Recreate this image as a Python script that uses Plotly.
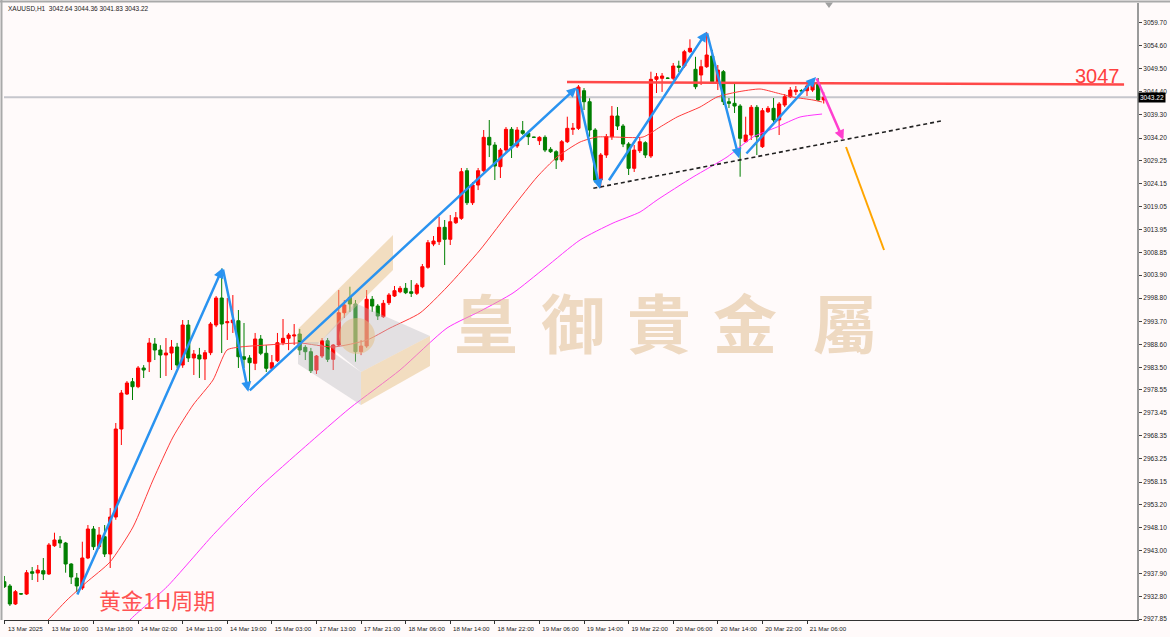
import plotly.graph_objects as go

# ---------------- data ----------------
bar_index = list(range(148))
opens = [2936.11, 2935.16, 2931.18, 2933.45, 2933.39, 2938.32, 2938.03, 2938.54, 2937.81, 2944.07,
         2945.33, 2944.66, 2940.02, 2936.92, 2934.72, 2941.35, 2947.76, 2943.85, 2946.06, 2942.23,
         2950.41, 2969.87, 2977.61, 2980.33, 2979.22, 2983.36, 2984.75, 2988.66, 2987.33, 2986.23,
         2986.67, 2988.00, 2984.02, 2992.86, 2985.57, 2986.23, 2985.35, 2986.74, 2992.86, 2998.83,
         2993.37, 2993.37, 2993.81, 2985.85, 2985.57, 2984.40, 2989.77, 2986.61, 2983.29, 2984.97,
         2988.95, 2989.92, 2990.43, 2990.87, 2987.93, 2986.96, 2982.91, 2986.01, 2989.39, 2985.28,
         2988.44, 2995.58, 2999.00, 2997.51, 2986.96, 2988.22, 2998.55, 2997.06, 2994.70, 2997.79,
         2999.27, 3000.22, 3000.98, 3000.22, 2999.87, 3001.33, 3005.62, 3010.77, 3011.28, 3014.46,
         3011.81, 3015.48, 3016.45, 3026.98, 3019.90, 3023.82, 3026.98, 3034.36, 3032.66, 3027.87,
         3031.55, 3036.13, 3032.44, 3035.82, 3035.25, 3034.40, 3033.61, 3034.36, 3031.71, 3031.18,
         3029.36, 3033.39, 3036.13, 3036.35, 3044.67, 3042.23, 3035.98, 3024.92, 3030.45, 3034.50,
         3039.07, 3036.86, 3032.88, 3027.51, 3031.40, 3033.17, 3030.23, 3047.19, 3047.41, 3047.45,
         3047.41, 3050.13, 3050.13, 3053.29, 3049.40, 3048.14, 3049.97, 3052.34, 3046.30, 3048.87,
         3042.23, 3041.88, 3041.28, 3033.39, 3034.87, 3041.00, 3032.29, 3040.02, 3040.77, 3038.19,
         3041.50, 3043.34, 3044.45, 3044.67, 3044.67, 3044.82, 3046.30, 3042.64]
highs = [2937.37, 2935.60, 2934.27, 2933.60, 2938.69, 2939.36, 2939.80, 2941.35, 2944.66, 2946.94,
         2946.21, 2944.90, 2940.20, 2938.03, 2944.95, 2948.64, 2948.42, 2948.20, 2948.64, 2952.40,
         2971.20, 2978.49, 2980.48, 2981.15, 2983.80, 2984.00, 2989.99, 2989.99, 2988.40, 2989.99,
         2989.55, 2988.90, 2993.97, 2993.97, 2987.33, 2987.80, 2987.33, 2993.53, 2999.27, 3005.36,
         2998.83, 2999.49, 2996.18, 2993.31, 2986.20, 2991.10, 2990.65, 2988.40, 2986.23, 2991.10,
         2994.19, 2991.10, 2993.08, 2991.98, 2988.40, 2987.80, 2986.23, 2989.99, 2989.99, 2988.66,
         3000.60, 2998.39, 3001.33, 2998.39, 2989.55, 3000.60, 2999.27, 2997.50, 2998.39, 2999.93,
         3001.49, 3001.49, 3002.15, 3002.81, 3002.15, 3006.35, 3011.66, 3012.54, 3016.81, 3016.08,
         3017.18, 3017.85, 3027.58, 3027.58, 3024.48, 3027.58, 3035.98, 3038.19, 3033.30, 3032.00,
         3036.64, 3036.64, 3036.64, 3037.97, 3035.80, 3034.50, 3034.60, 3034.80, 3032.20, 3031.50,
         3033.77, 3038.92, 3037.53, 3045.93, 3045.26, 3043.00, 3036.40, 3030.90, 3035.10, 3041.28,
         3041.06, 3037.30, 3033.30, 3032.66, 3034.20, 3033.50, 3048.87, 3048.58, 3048.58, 3047.60,
         3050.80, 3051.30, 3053.70, 3056.03, 3052.16, 3051.50, 3057.65, 3053.70, 3050.35, 3049.24,
         3043.05, 3046.30, 3041.70, 3038.92, 3041.50, 3041.50, 3040.84, 3041.28, 3043.05, 3042.17,
         3043.93, 3045.48, 3045.70, 3045.00, 3046.15, 3047.03, 3047.47, 3044.36]
lows = [2934.72, 2930.74, 2930.96, 2933.20, 2933.17, 2936.48, 2936.04, 2936.48, 2937.59, 2943.80,
        2943.56, 2938.10, 2935.60, 2933.80, 2934.27, 2941.10, 2943.12, 2943.34, 2941.57, 2939.14,
        2949.80, 2966.33, 2977.40, 2976.28, 2978.90, 2981.15, 2982.47, 2985.12, 2981.15, 2981.59,
        2982.91, 2983.40, 2983.40, 2984.68, 2981.81, 2981.15, 2980.70, 2986.20, 2992.40, 2986.67,
        2989.55, 2991.10, 2983.36, 2983.36, 2980.26, 2982.90, 2986.20, 2982.47, 2982.90, 2984.68,
        2988.40, 2987.30, 2988.45, 2986.23, 2985.12, 2982.25, 2982.03, 2985.57, 2984.68, 2982.91,
        2988.20, 2994.41, 2995.74, 2984.75, 2986.20, 2987.80, 2995.74, 2993.97, 2994.41, 2997.29,
        2999.05, 2999.90, 2999.70, 2999.05, 2999.50, 3001.00, 3005.30, 3010.30, 3010.55, 3006.13,
        3010.55, 3015.20, 3016.10, 3019.40, 3019.40, 3022.70, 3026.70, 3030.00, 3024.92, 3025.36,
        3031.10, 3029.79, 3032.00, 3034.90, 3032.66, 3034.20, 3032.66, 3031.10, 3030.90, 3027.35,
        3028.90, 3033.10, 3034.90, 3035.98, 3040.40, 3034.50, 3024.26, 3023.16, 3029.80, 3033.80,
        3035.98, 3032.20, 3026.03, 3026.70, 3030.90, 3029.80, 3029.79, 3044.16, 3044.40, 3047.30,
        3047.00, 3048.80, 3049.70, 3053.00, 3045.00, 3045.93, 3049.70, 3046.40, 3044.82, 3041.50,
        3040.84, 3039.74, 3025.65, 3033.10, 3033.77, 3030.45, 3032.00, 3039.74, 3037.75, 3034.87,
        3041.06, 3043.05, 3043.70, 3044.30, 3043.50, 3044.40, 3042.40, 3041.83]
closes = [2935.00, 2931.18, 2933.90, 2933.39, 2938.10, 2937.96, 2938.69, 2937.81, 2944.22, 2945.33,
          2944.66, 2940.02, 2937.15, 2935.16, 2941.35, 2947.76, 2943.85, 2946.43, 2942.23, 2950.41,
          2969.87, 2977.83, 2980.04, 2979.22, 2983.36, 2982.91, 2988.88, 2987.33, 2986.23, 2986.67,
          2988.00, 2984.02, 2992.86, 2985.57, 2986.45, 2985.35, 2986.74, 2993.08, 2998.83, 2993.08,
          2993.59, 2993.97, 2985.85, 2985.28, 2984.53, 2989.77, 2986.61, 2983.29, 2984.53, 2988.95,
          2989.92, 2990.65, 2990.65, 2987.33, 2986.96, 2982.76, 2986.01, 2989.39, 2985.28, 2988.44,
          2995.58, 2997.29, 2997.51, 2986.96, 2988.22, 2998.55, 2997.06, 2994.85, 2997.66, 2999.49,
          3000.45, 3000.98, 3000.00, 2999.87, 3001.71, 3005.75, 3011.06, 3011.43, 3014.46, 3011.81,
          3015.70, 3016.59, 3026.76, 3019.90, 3023.82, 3026.98, 3034.36, 3032.66, 3028.02, 3031.55,
          3036.13, 3032.44, 3035.98, 3035.25, 3034.50, 3034.36, 3034.36, 3031.55, 3031.18, 3029.36,
          3033.39, 3036.35, 3036.35, 3045.48, 3042.23, 3035.98, 3024.92, 3030.45, 3034.50, 3039.07,
          3036.86, 3032.88, 3027.51, 3031.55, 3033.39, 3030.45, 3047.19, 3047.76, 3047.92, 3047.41,
          3050.13, 3049.84, 3053.29, 3054.04, 3045.55, 3049.97, 3052.56, 3046.66, 3049.24, 3042.23,
          3041.88, 3041.28, 3034.14, 3034.87, 3041.00, 3034.50, 3040.25, 3040.77, 3038.19, 3041.73,
          3043.34, 3044.82, 3044.82, 3044.64, 3045.71, 3046.43, 3042.61, 3043.22]

x_tick_index = list(range(0, 145, 8))
x_tick_text = ["13 Mar 2025", "13 Mar 10:00", "13 Mar 18:00", "14 Mar 02:00", "14 Mar 11:00",
               "14 Mar 19:00", "15 Mar 03:00", "17 Mar 13:00", "17 Mar 21:00", "18 Mar 06:00",
               "18 Mar 14:00", "18 Mar 22:00", "19 Mar 06:00", "19 Mar 14:00", "19 Mar 22:00",
               "20 Mar 06:00", "20 Mar 14:00", "20 Mar 22:00", "21 Mar 06:00"]
y_tick_values = [3059.70, 3054.60, 3049.50, 3044.40, 3039.30, 3034.20, 3029.25, 3024.15, 3019.05,
                 3013.95, 3008.85, 3003.90, 2998.80, 2993.70, 2988.60, 2983.50, 2978.55, 2973.45,
                 2968.35, 2963.25, 2958.15, 2953.20, 2948.10, 2943.00, 2937.90, 2932.80, 2927.85]

# moving averages
ma_fast_x = [6.6, 7.84, 11.25, 14.8, 18.96, 23.09, 26.68, 30.27, 33.86, 37.44, 39.95, 42.29, 47.13,
             53.05, 58.97, 65.07, 69.2, 74.58, 79.42, 85.34, 91.26, 95.57, 99.16, 103.29, 106.34,
             109.21, 114.59, 117.64, 120.69, 124.81, 127.86, 131.45, 135.58, 138.63, 141.5, 145.08, 146.7]
ma_fast_y = [2926.0, 2927.63, 2932.06, 2936.04, 2940.46, 2948.20, 2958.59, 2968.10, 2975.18, 2980.70,
             2987.33, 2988.00, 2988.44, 2988.88, 2988.00, 2989.55, 2992.20, 2995.52, 3001.26, 3009.45,
             3018.95, 3025.59, 3030.01, 3033.32, 3034.43, 3034.43, 3034.43, 3036.64, 3038.85, 3041.06,
             3043.27, 3044.38, 3045.04, 3044.16, 3043.27, 3042.61, 3042.17]
ma_slow_x = [21.5, 22.55, 29.2, 37.5, 45.87, 54.0, 62.02, 70.99, 79.42, 85.5, 91.26, 97.0, 103.29,
             109.21, 114.05, 117.1, 123.56, 129.66, 134.32, 138.63, 142.75, 146.7]
ma_slow_y = [2925.3, 2927.63, 2935.0, 2946.5, 2957.05, 2966.0, 2974.51, 2982.91, 2992.20, 2996.0,
             2999.94, 3005.5, 3011.66, 3015.41, 3017.85, 3020.50, 3025.59, 3030.01, 3034.43, 3036.64,
             3038.85, 3039.51]

# hand-drawn analysis lines: (x0, y0, x1, y1) in bar index / price
blue_wave = [(12.99, 2932.94, 39.18, 3005.47), (39.18, 3005.47, 43.77, 2978.12),
             (43.77, 2978.12, 102.69, 3045.42), (102.69, 3045.42, 106.87, 3022.93),
             (108.30, 3024.55, 126.01, 3057.71), (126.01, 3057.71, 131.81, 3029.72),
             (132.89, 3030.45, 145.62, 3047.70)]
pink_move = (145.62, 3047.70, 150.52, 3033.77)
orange_move = (151.0, 3032.22, 157.82, 3009.45)
support_dash = (105.67, 3023.09, 168.23, 3038.01)
resistance = (100.95, 3046.59, 200.88, 3046.04)
resistance_label = "3047"
last_price = 3043.22
header = "XAUUSD,H1  3042.64 3044.36 3041.83 3043.22"
period_label = "黄金1H周期"
watermark_chars = ["皇", "御", "貴", "金", "屬"]

# ---------------- figure ----------------
L, R, T, B = 4, 1137, 3, 620          # plot area in page pixels
W, H = 1170, 637


def px(x):
    return (x - L) / (R - L)


def py(y):
    return (B - y) / (B - T)


def path(points):
    return "M " + " L ".join(f"{px(a):.5f} {py(b):.5f}" for a, b in points) + " Z"


fig = go.Figure()
fig.add_trace(go.Candlestick(
    x=bar_index, open=opens, high=highs, low=lows, close=closes,
    increasing=dict(line=dict(color="#ff0000", width=1), fillcolor="#ff0000"),
    decreasing=dict(line=dict(color="#007f00", width=1), fillcolor="#007f00"),
    whiskerwidth=0, hoverinfo="skip"))
fig.add_trace(go.Scatter(x=ma_fast_x, y=ma_fast_y, mode="lines",
                         line=dict(color="#ff3b3b", width=1, shape="spline", smoothing=0.6),
                         hoverinfo="skip"))
fig.add_trace(go.Scatter(x=ma_slow_x, y=ma_slow_y, mode="lines",
                         line=dict(color="#ff33ff", width=1, shape="spline", smoothing=0.6),
                         hoverinfo="skip"))

shapes = []
# current price line
shapes.append(dict(type="line", xref="paper", x0=0, x1=1, yref="y", y0=last_price, y1=last_price,
                   line=dict(color="#c6c6cc", width=2), layer="below"))
# resistance
shapes.append(dict(type="line", xref="x", yref="y", x0=resistance[0], y0=resistance[1],
                   x1=resistance[2], y1=resistance[3], line=dict(color="#ff4848", width=2.5),
                   layer="above"))
# support dashed
shapes.append(dict(type="line", xref="x", yref="y", x0=support_dash[0], y0=support_dash[1],
                   x1=support_dash[2], y1=support_dash[3],
                   line=dict(color="#222222", width=1.6, dash="4px,3px"), layer="above"))
# orange projection
shapes.append(dict(type="line", xref="x", yref="y", x0=orange_move[0], y0=orange_move[1],
                   x1=orange_move[2], y1=orange_move[3], line=dict(color="#ffa500", width=2),
                   layer="above"))
# logo watermark
tan = "rgba(228,190,130,0.48)"
gray = "rgba(185,185,190,0.40)"
shapes.append(dict(type="path", xref="paper", yref="paper", layer="above", line=dict(width=0),
                   fillcolor=tan, path=path([(298, 329), (393, 235), (393, 270), (316, 346), (298, 340)])))
shapes.append(dict(type="path", xref="paper", yref="paper", layer="above", line=dict(width=0),
                   fillcolor=gray, path=path([(298, 342), (318, 342), (361, 372), (361, 405), (298, 364)])))
shapes.append(dict(type="path", xref="paper", yref="paper", layer="above", line=dict(width=0),
                   fillcolor=gray, path=path([(355, 303), (430, 336), (361, 372), (322, 340)])))
shapes.append(dict(type="path", xref="paper", yref="paper", layer="above", line=dict(width=0),
                   fillcolor=tan, path=path([(361, 372), (430, 336), (430, 366), (361, 405)])))
shapes.append(dict(type="circle", xref="paper", yref="paper", layer="above", line=dict(width=0),
                   fillcolor="rgba(228,190,130,0.5)", x0=px(339), x1=px(375), y0=py(354), y1=py(318)))
# frame
shapes.append(dict(type="line", xref="paper", yref="paper", x0=px(0), x1=px(W), y0=py(1.5), y1=py(1.5),
                   line=dict(color="#a9a9a9", width=2)))
shapes.append(dict(type="line", xref="paper", yref="paper", x0=px(1.5), x1=px(1.5), y0=py(0), y1=py(B),
                   line=dict(color="#a9a9a9", width=2)))
shapes.append(dict(type="path", xref="paper", yref="paper", line=dict(width=0), fillcolor="#a0a0a0",
                   path=path([(825, 2.5), (833, 2.5), (829, 8)])))

annotations = []
for (x0, y0, x1, y1) in blue_wave:
    annotations.append(dict(x=x1, y=y1, ax=x0, ay=y0, xref="x", yref="y", axref="x", ayref="y",
                            text="", showarrow=True, arrowhead=2, arrowsize=0.8, arrowwidth=2.5,
                            arrowcolor="#2a93f0", standoff=0))
annotations.append(dict(x=pink_move[2], y=pink_move[3], ax=pink_move[0], ay=pink_move[1],
                        xref="x", yref="y", axref="x", ayref="y", text="", showarrow=True,
                        arrowhead=2, arrowsize=0.8, arrowwidth=2.5, arrowcolor="#ff3fcf", standoff=0))
annotations.append(dict(x=px(1122), y=py(75.5), xref="paper", yref="paper", xanchor="right",
                        yanchor="middle", text=resistance_label, showarrow=False,
                        font=dict(family="Liberation Sans", size=20, color="#ff4040")))
annotations.append(dict(x=1, xshift=1, y=last_price, xref="paper", yref="y", xanchor="left",
                        yanchor="middle", text=f"{last_price:.2f}", showarrow=False, bgcolor="#000000",
                        borderpad=1, font=dict(family="Liberation Sans", size=6.5, color="#ffffff")))
annotations.append(dict(x=px(6), y=py(8.5), xref="paper", yref="paper", xanchor="left",
                        yanchor="middle", text=header, showarrow=False,
                        font=dict(family="Liberation Sans", size=6.5, color="#222222")))
annotations.append(dict(x=px(156.5), y=py(598.5), xref="paper", yref="paper", xanchor="center",
                        yanchor="middle", text=period_label, showarrow=False,
                        font=dict(family="Noto Sans CJK SC", size=22, color="#ff5252")))
for ch, cx in zip(watermark_chars, [486, 573, 659, 745, 845]):
    annotations.append(dict(x=px(cx), y=py(320), xref="paper", yref="paper", xanchor="center",
                            yanchor="middle", text=ch, showarrow=False,
                            font=dict(family="Noto Sans CJK TC", size=64, weight="bold",
                                      color="rgba(222,184,135,0.5)")))

fig.update_layout(
    template="none", width=W, height=H,
    margin=dict(l=L, r=W - R, t=T, b=H - B, pad=0),
    paper_bgcolor="#fffafa", plot_bgcolor="#fffafa",
    showlegend=False, hovermode=False, boxgap=0.2, boxgroupgap=0.3,
    shapes=shapes, annotations=annotations,
    xaxis=dict(range=[-0.054, 203.2], tickvals=x_tick_index, ticktext=x_tick_text,
               showgrid=False, zeroline=False, showline=True, linecolor="#333333", linewidth=1,
               ticks="outside", ticklen=3, tickcolor="#333333", automargin=False,
               tickfont=dict(family="Liberation Sans", size=6.2, color="#222222"),
               ticklabelshift=21, rangeslider=dict(visible=False)),
    yaxis=dict(side="right", range=[2927.64, 3064.06], tickvals=y_tick_values,
               ticktext=[f"{v:.2f}" for v in y_tick_values], showgrid=False, zeroline=False,
               showline=True, linecolor="#9a9a9a", linewidth=2, ticks="outside", ticklen=3,
               tickcolor="#444444", automargin=False,
               tickfont=dict(family="Liberation Sans", size=6.5, color="#222222")),
)

fig.write_html("out.html", config={"displayModeBar": False})
